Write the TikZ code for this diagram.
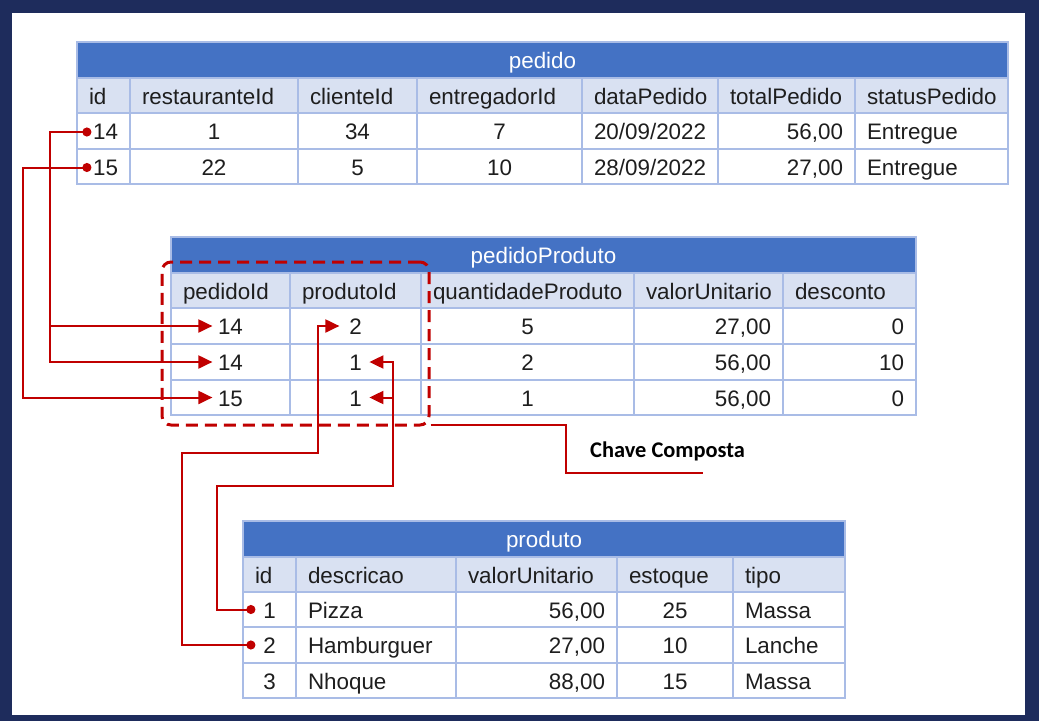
\documentclass[tikz,border=0pt]{standalone}
\usepackage{fontspec}
\setmainfont{Liberation Sans}
\newfontfamily\calibfont{Carlito}
\usetikzlibrary{arrows.meta}
\definecolor{navy}{RGB}{30,44,92}
\definecolor{hdr}{HTML}{4472C4}
\definecolor{colh}{HTML}{D9E1F2}
\definecolor{gridc}{HTML}{A9BCE6}
\definecolor{fkred}{HTML}{C00000}
\definecolor{ink}{HTML}{1E1E1E}
\newcommand\tcell[7]{%
  \pgfmathsetmacro\tcw{#3-#2}\pgfmathsetmacro\tch{#5-#4}\pgfmathsetmacro\tctw{#3-#2-24}%
  \pgfmathsetmacro\tcx{(#2+#3)/2}\pgfmathsetmacro\tcy{(#4+#5)/2}%
  \node[cellbase,#6,minimum width=\tcw pt,minimum height=\tch pt,text width=\tctw pt] (#1) at (\tcx,\tcy) {#7};}
\tikzset{
  cellbase/.style={draw=gridc, line width=1.2pt, inner xsep=12pt, inner ysep=0pt,
    font=\fontsize{22.4}{26}\selectfont, text=ink, fill=white,
    text height=19pt, text depth=2pt},
  L/.style={align=left}, C/.style={align=center}, R/.style={align=right},
  H/.style={fill=colh, align=left},
  T/.style={fill=hdr, align=center, text=white},
  fk/.style={draw=fkred, line width=2pt},
  fkboth/.style={fk, {Circle[length=9pt]}-{Triangle[length=14pt,width=13pt]}},
  fkend/.style={fk, -{Triangle[length=14pt,width=13pt]}},
  keybox/.style={draw=fkred, line width=3pt, dash pattern=on 12pt off 7pt, rounded corners=9pt, inner sep=0pt},
}
\begin{document}
\begin{tikzpicture}[x=1pt,y=-1pt]
\useasboundingbox (0,0) rectangle (1039,721);
\fill[navy] (0,0) rectangle (1039,721);
\fill[white] (12,13) rectangle (1025,715);

% ---------- pedido ----------
\tcell{ped-t}{77}{1008}{42}{78}{T}{pedido}
\tcell{ped-0-1}{77}{130}{78}{113}{H}{id}
\tcell{ped-0-2}{130}{298}{78}{113}{H}{restauranteId}
\tcell{ped-0-3}{298}{417}{78}{113}{H}{clienteId}
\tcell{ped-0-4}{417}{582}{78}{113}{H}{entregadorId}
\tcell{ped-0-5}{582}{718}{78}{113}{H}{dataPedido}
\tcell{ped-0-6}{718}{855}{78}{113}{H}{totalPedido}
\tcell{ped-0-7}{855}{1008}{78}{113}{H}{statusPedido}
\tcell{ped-1-1}{77}{130}{113}{149}{R}{14}
\tcell{ped-1-2}{130}{298}{113}{149}{C}{1}
\tcell{ped-1-3}{298}{417}{113}{149}{C}{34}
\tcell{ped-1-4}{417}{582}{113}{149}{C}{7}
\tcell{ped-1-5}{582}{718}{113}{149}{C}{20/09/2022}
\tcell{ped-1-6}{718}{855}{113}{149}{R}{56,00}
\tcell{ped-1-7}{855}{1008}{113}{149}{L}{Entregue}
\tcell{ped-2-1}{77}{130}{149}{184}{R}{15}
\tcell{ped-2-2}{130}{298}{149}{184}{C}{22}
\tcell{ped-2-3}{298}{417}{149}{184}{C}{5}
\tcell{ped-2-4}{417}{582}{149}{184}{C}{10}
\tcell{ped-2-5}{582}{718}{149}{184}{C}{28/09/2022}
\tcell{ped-2-6}{718}{855}{149}{184}{R}{27,00}
\tcell{ped-2-7}{855}{1008}{149}{184}{L}{Entregue}

% ---------- pedidoProduto ----------
\tcell{pp-t}{171}{916}{237}{273}{T}{pedidoProduto}
\tcell{pp-0-1}{171}{290}{273}{308}{H}{pedidoId}
\tcell{pp-0-2}{290}{421}{273}{308}{H}{produtoId}
\tcell{pp-0-3}{421}{634}{273}{308}{H}{quantidadeProduto}
\tcell{pp-0-4}{634}{783}{273}{308}{H}{valorUnitario}
\tcell{pp-0-5}{783}{916}{273}{308}{H}{desconto}
\tcell{pp-1-1}{171}{290}{308}{344}{C}{14}
\tcell{pp-1-2}{290}{421}{308}{344}{C}{2}
\tcell{pp-1-3}{421}{634}{308}{344}{C}{5}
\tcell{pp-1-4}{634}{783}{308}{344}{R}{27,00}
\tcell{pp-1-5}{783}{916}{308}{344}{R}{0}
\tcell{pp-2-1}{171}{290}{344}{380}{C}{14}
\tcell{pp-2-2}{290}{421}{344}{380}{C}{1}
\tcell{pp-2-3}{421}{634}{344}{380}{C}{2}
\tcell{pp-2-4}{634}{783}{344}{380}{R}{56,00}
\tcell{pp-2-5}{783}{916}{344}{380}{R}{10}
\tcell{pp-3-1}{171}{290}{380}{415}{C}{15}
\tcell{pp-3-2}{290}{421}{380}{415}{C}{1}
\tcell{pp-3-3}{421}{634}{380}{415}{C}{1}
\tcell{pp-3-4}{634}{783}{380}{415}{R}{56,00}
\tcell{pp-3-5}{783}{916}{380}{415}{R}{0}

% ---------- produto ----------
\tcell{pr-t}{243}{845}{521}{557}{T}{produto}
\tcell{pr-0-1}{243}{296}{557}{592}{H}{id}
\tcell{pr-0-2}{296}{456}{557}{592}{H}{descricao}
\tcell{pr-0-3}{456}{617}{557}{592}{H}{valorUnitario}
\tcell{pr-0-4}{617}{733}{557}{592}{H}{estoque}
\tcell{pr-0-5}{733}{845}{557}{592}{H}{tipo}
\tcell{pr-1-1}{243}{296}{592}{627}{C}{1}
\tcell{pr-1-2}{296}{456}{592}{627}{L}{Pizza}
\tcell{pr-1-3}{456}{617}{592}{627}{R}{56,00}
\tcell{pr-1-4}{617}{733}{592}{627}{C}{25}
\tcell{pr-1-5}{733}{845}{592}{627}{L}{Massa}
\tcell{pr-2-1}{243}{296}{627}{663}{C}{2}
\tcell{pr-2-2}{296}{456}{627}{663}{L}{Hamburguer}
\tcell{pr-2-3}{456}{617}{627}{663}{R}{27,00}
\tcell{pr-2-4}{617}{733}{627}{663}{C}{10}
\tcell{pr-2-5}{733}{845}{627}{663}{L}{Lanche}
\tcell{pr-3-1}{243}{296}{663}{698}{C}{3}
\tcell{pr-3-2}{296}{456}{663}{698}{L}{Nhoque}
\tcell{pr-3-3}{456}{617}{663}{698}{R}{88,00}
\tcell{pr-3-4}{617}{733}{663}{698}{C}{15}
\tcell{pr-3-5}{733}{845}{663}{698}{L}{Massa}

% ---------- connector anchors ----------
\coordinate (d14) at ([xshift=15pt,yshift=-1pt]ped-1-1.west);
\coordinate (d15) at ([xshift=15pt,yshift=-1pt]ped-2-1.west);
\coordinate (t1) at ([xshift=42pt]pp-1-1.west);
\coordinate (t2) at ([xshift=42pt]pp-2-1.west);
\coordinate (t3) at ([xshift=42pt]pp-3-1.west);
\coordinate (t4) at ([xshift=50pt]pp-1-2.west);
\coordinate (t5) at ([xshift=80pt]pp-2-2.west);
\coordinate (t6) at ([xshift=80pt]pp-3-2.west);
\coordinate (p1) at ([xshift=13pt]pr-1-1.west);
\coordinate (p2) at ([xshift=13pt]pr-2-1.west);
\coordinate (xa) at (50,0);
\coordinate (xb) at (23,0);
\coordinate (c1) at (182,453);
\coordinate (c2) at (318,453);
\coordinate (e1) at (217,486);
\coordinate (e2) at (393,486);

% ---------- connectors ----------
\draw[fkboth] (d14) -- (xa |- d14) |- (t1);
\draw[fkend] (xa |- t1) |- (t2);
\draw[fkboth] (d15) -- (xb |- d15) |- (t3);
\draw[fkboth] (p2) -| (c1) -- (c2) |- (t4);
\draw[fkboth] (p1) -| (e1) -- (e2) |- (t5);
\draw[fkend] (e2 |- t6) -- (t6);

% ---------- composite key ----------
\node[keybox, minimum width=267pt, minimum height=163pt] (ck) at (295.5,343.5) {};
\coordinate (ckb) at (566,473);
\coordinate (cke) at (703,473);
\draw[fk] ([yshift=2pt]ck.south east) -| (ckb) -- (cke);
\node[font=\calibfont\bfseries\fontsize{22.4}{26}\selectfont, text=black, anchor=west, inner sep=0pt] (cklab) at (590,451) {Chave Composta};
\end{tikzpicture}
\end{document}
